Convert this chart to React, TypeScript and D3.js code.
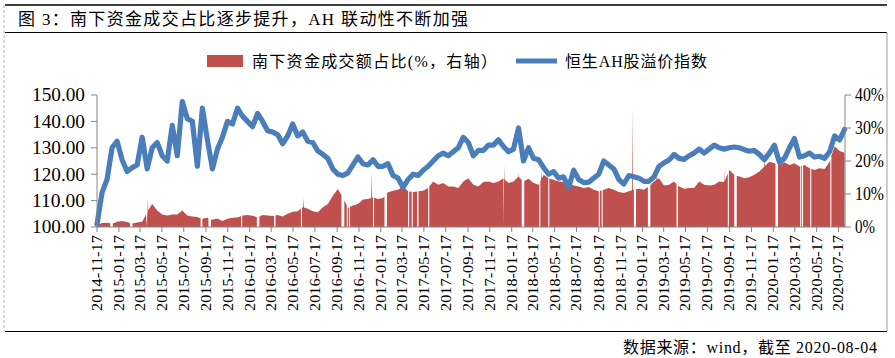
import React from "react";
import * as d3 from "d3";

// ---------- data ----------
const START = "2014-11-17";
const END = "2020-08-04";
const STEP_DAYS = 14; // one sample every two weeks

// 恒生AH股溢价指数 (left axis)
const ahIndex = [
  101, 113, 118, 130, 132.5, 125.5, 121, 122.5, 123.5, 134,
  122, 130, 132, 127, 125, 138.5, 127, 147.5, 141, 140,
  123, 145, 133, 122, 129.5, 134, 140, 139, 145, 142,
  140, 138, 143, 140, 136.5, 136, 135, 131.5, 134.5, 139,
  134.5, 136, 132.5, 132, 128.8, 127.5, 126, 122, 120, 119.5,
  120.5, 123.5, 126.5, 124, 123.5, 125.5, 123, 123, 124, 119.5,
  118.5, 115, 118, 120, 119.5, 121.5, 123, 125, 127, 128,
  127, 128.5, 130, 134, 132, 127, 129, 129, 131, 131,
  133, 130.5, 128.5, 129.5, 137.5, 125, 130, 126, 125.5, 122.5,
  120, 121, 118.5, 119, 115, 121.5, 118, 116.8, 117, 118.5,
  120, 125, 123.5, 122, 118, 116.3, 119.5, 119, 118.5, 117.3,
  117.3, 119, 123, 124.3, 125.4, 127.5, 126, 125.6, 127, 128,
  129.5, 128, 129.5, 131, 130, 129.5, 130, 130.3, 130, 129.3,
  128.7, 129, 127.5, 125.5, 128, 131, 124.5, 126, 130, 133.5,
  126.5, 127, 128, 126.5, 126.8, 126, 128.5, 134.5, 133, 137,
];

// 南下资金成交额占比 % (right axis)
const southShare = [
  0.5, 1.2, 1.3, 1.0, 1.6, 1.8, 1.5, 1.0, 1.4, 1.6,
  4.5, 7.0, 5.0, 3.8, 3.5, 3.8, 3.8, 5.0, 3.5, 3.2,
  3.0, 2.5, 2.8, 2.2, 2.6, 1.8, 2.5, 2.8, 2.9, 3.5,
  3.6, 3.4, 3.0, 3.6, 3.5, 3.3, 3.6, 3.2, 4.0, 4.6,
  4.8, 6.0, 5.5, 4.8, 4.5, 6.0, 7.0, 9.5, 11.5, 9.0,
  5.8, 6.5, 7.0, 8.3, 8.5, 9.0, 8.5, 8.8, 10.5, 11.0,
  11.3, 12.3, 10.8, 10.6, 10.8, 11.0, 11.8, 13.8, 12.8, 13.3,
  12.3, 12.3, 11.8, 13.8, 14.8, 12.8, 12.3, 13.6, 13.8, 13.3,
  13.8, 14.8, 13.3, 13.8, 15.3, 13.8, 14.6, 13.3, 12.8, 15.8,
  14.8, 14.3, 13.8, 13.6, 13.3, 12.6, 12.3, 11.8, 12.1, 11.3,
  10.8, 11.3, 11.8, 11.3, 10.6, 10.3, 10.8, 11.3, 11.6, 11.3,
  12.3, 13.8, 14.8, 12.6, 12.8, 13.8, 12.3, 11.6, 11.8, 11.8,
  13.8, 12.8, 12.6, 12.8, 13.8, 13.6, 17.3, 15.8, 15.3, 14.8,
  15.1, 15.8, 16.8, 18.3, 19.8, 19.3, 18.8, 19.6, 18.8, 19.3,
  18.3, 18.8, 17.8, 17.3, 17.8, 17.6, 19.8, 24.5, 23.0, 22.5,
];

// Stock Connect closure periods (start date, days) -> zero share
const closures: [string, number][] = [
  ["2014-12-24", 7], ["2015-02-17", 7], ["2015-04-03", 4], ["2015-09-02", 5],
  ["2015-09-24", 7], ["2015-12-24", 3], ["2016-02-06", 7], ["2016-03-25", 4],
  ["2016-06-08", 3], ["2016-09-29", 8], ["2016-10-14", 3], ["2016-10-20", 3],
  ["2016-12-26", 3], ["2017-01-27", 7], ["2017-04-03", 3], ["2017-04-13", 3],
  ["2017-04-28", 4], ["2017-05-29", 3], ["2017-12-25", 3], ["2018-02-14", 7],
  ["2018-04-04", 3], ["2018-04-29", 3], ["2018-09-17", 3], ["2018-09-25", 3],
  ["2018-12-24", 6], ["2019-02-01", 7], ["2019-04-22", 4], ["2019-09-12", 3],
  ["2019-09-30", 7], ["2020-01-23", 7], ["2020-04-01", 3], ["2020-04-06", 3],
  ["2020-04-29", 3], ["2020-06-24", 3],
];

// single-day peaks of the share (date, %)
const spikes: [string, number][] = [
  ["2015-04-08", 8.8], ["2016-06-15", 8.8], ["2016-12-22", 16.9],
  ["2017-12-28", 18.9], ["2018-02-05", 16.9], ["2018-04-10", 16.9],
  ["2018-12-20", 36], ["2019-02-26", 16.9], ["2019-09-02", 18.9],
  ["2019-12-24", 23.9],
];

const xTickLabels = [
  "2014-11-17", "2015-01-17", "2015-03-17", "2015-05-17", "2015-07-17",
  "2015-09-17", "2015-11-17", "2016-01-17", "2016-03-17", "2016-05-17",
  "2016-07-17", "2016-09-17", "2016-11-17", "2017-01-17", "2017-03-17",
  "2017-05-17", "2017-07-17", "2017-09-17", "2017-11-17", "2018-01-17",
  "2018-03-17", "2018-05-17", "2018-07-17", "2018-09-17", "2018-11-17",
  "2019-01-17", "2019-03-17", "2019-05-17", "2019-07-17", "2019-09-17",
  "2019-11-17", "2020-01-17", "2020-03-17", "2020-05-17", "2020-07-17",
];
const leftTicks = [100, 110, 120, 130, 140, 150];
const rightTicks = [0, 10, 20, 30, 40];

const TITLE = "图 3：南下资金成交占比逐步提升，AH 联动性不断加强";
const LEGEND_SHARE = "南下资金成交额占比(%，右轴）";
const LEGEND_AH = "恒生AH股溢价指数";
const SOURCE = "数据来源：wind，截至 2020-08-04";

// ---------- layout ----------
const W = 895;
const H = 358;
const PL = 97;
const PR = 845;
const PT = 95;
const PB = 227;
const RED = "#C0504D";
const BLUE = "#4A7EBB";
const AXIS = "#868686";
const SERIF = "'Liberation Serif', 'Noto Sans CJK SC', serif";

const parse = d3.utcParse("%Y-%m-%d");

export default function App() {
  const t0 = parse(START)!;
  const t1 = parse(END)!;
  const x = d3.scaleUtc().domain([t0, t1]).range([PL, PR]);
  const yL = d3.scaleLinear().domain([100, 150]).range([PB, PT]);
  const yR = d3.scaleLinear().domain([0, 40]).range([PB, PT]);

  const lineData = ahIndex.map((v, i) => ({ t: d3.utcDay.offset(t0, i * STEP_DAYS).getTime(), v }));
  const baseRed = southShare.map((v, i) => ({ t: d3.utcDay.offset(t0, i * STEP_DAYS).getTime(), v, o: 0 }));
  const bis = d3.bisector((p: any) => p.t).left;
  const valAt = (t: number) => {
    const i = bis(baseRed, t);
    if (i <= 0) return baseRed[0].v;
    if (i >= baseRed.length) return baseRed[baseRed.length - 1].v;
    const a = baseRed[i - 1];
    const b = baseRed[i];
    return a.v + ((b.v - a.v) * (t - a.t)) / (b.t - a.t);
  };
  const gaps = closures.map(([d, n]) => {
    const a = parse(d)!;
    return [a.getTime(), d3.utcDay.offset(a, n).getTime()];
  });
  const redPts: { t: number; v: number; o: number }[] = baseRed.filter(
    (p) => !gaps.some(([a, b]) => p.t >= a && p.t <= b)
  );
  gaps.forEach(([a, b]) => {
    redPts.push({ t: a, v: valAt(a), o: 0 }, { t: a, v: 0, o: 1 }, { t: b, v: 0, o: 2 }, { t: b, v: valAt(b), o: 3 });
  });
  const DAY = 86400000;
  spikes.forEach(([d, v]) => {
    const s = parse(d)!.getTime();
    redPts.push({ t: s - 1.2 * DAY, v: valAt(s - 1.2 * DAY), o: 0 }, { t: s, v, o: 1 }, { t: s + 1.2 * DAY, v: valAt(s + 1.2 * DAY), o: 2 });
  });
  redPts.sort((a, b) => a.t - b.t || a.o - b.o);

  const area = d3
    .area<{ t: number; v: number }>()
    .x((p) => x(p.t))
    .y0(yR(0))
    .y1((p) => yR(p.v));
  const line = d3
    .line<{ t: number; v: number }>()
    .x((p) => x(p.t))
    .y((p) => yL(p.v));

  return (
    <svg
      width={W}
      height={H}
      viewBox={`0 0 ${W} ${H}`}
      style={{ position: "absolute", left: 0, top: 0, background: "#fff" }}
    >
      <rect x={0} y={0} width={W} height={H} fill="#fff" />
      {/* frame */}
      <line x1={5} x2={887} y1={5} y2={5} stroke="#000" strokeWidth={1.5} />
      <line x1={5} x2={887} y1={32.5} y2={32.5} stroke="#000" strokeWidth={1.2} />
      <line x1={4} x2={4} y1={5} y2={331} stroke="#b5b5b5" strokeDasharray="3,2" />
      <line x1={887} x2={887} y1={32} y2={331} stroke="#9a9a9a" />
      <line x1={5} x2={887} y1={331.5} y2={331.5} stroke="#000" strokeWidth={1.2} />
      <text x={18} y={25} fontFamily={SERIF} fontSize={17} textLength={450} lengthAdjust="spacing">
        {TITLE}
      </text>

      {/* legend */}
      <rect x={207} y={55} width={36} height={12} fill={RED} />
      <text x={252} y={67} fontFamily={SERIF} fontSize={16} textLength={245} lengthAdjust="spacing">
        {LEGEND_SHARE}
      </text>
      <line x1={516} x2={557} y1={61} y2={61} stroke={BLUE} strokeWidth={5} />
      <text x={565} y={67} fontFamily={SERIF} fontSize={16} textLength={142} lengthAdjust="spacing">
        {LEGEND_AH}
      </text>

      {/* series */}
      <path d={area(redPts) || ""} fill={RED} />
      <path
        d={line(lineData) || ""}
        fill="none"
        stroke={BLUE}
        strokeWidth={5.2}
        strokeLinejoin="round"
        strokeLinecap="round"
      />

      {/* left axis */}
      <line x1={PL} x2={PL} y1={PT} y2={PB} stroke={AXIS} />
      {leftTicks.map((v) => (
        <g key={"l" + v}>
          <line x1={PL - 6} x2={PL} y1={yL(v)} y2={yL(v)} stroke={AXIS} />
          <text
            x={85}
            y={yL(v)}
            dy="0.35em"
            textAnchor="end"
            fontFamily={SERIF}
            fontSize={18}
            textLength={53}
            lengthAdjust="spacingAndGlyphs"
          >
            {v.toFixed(2)}
          </text>
        </g>
      ))}

      {/* right axis */}
      <line x1={PR} x2={PR} y1={PT} y2={PB} stroke={AXIS} />
      {rightTicks.map((v) => (
        <g key={"r" + v}>
          <line x1={PR} x2={PR + 6} y1={yR(v)} y2={yR(v)} stroke={AXIS} />
          <text
            x={855}
            y={yR(v)}
            dy="0.35em"
            fontFamily={SERIF}
            fontSize={18}
            textLength={v === 0 ? 20 : 29}
            lengthAdjust="spacingAndGlyphs"
          >
            {v + "%"}
          </text>
        </g>
      ))}

      {/* bottom axis */}
      <line x1={PL} x2={PR} y1={PB} y2={PB} stroke={AXIS} />
      {xTickLabels.map((s) => {
        const xx = x(parse(s)!);
        return (
          <g key={s}>
            <line x1={xx} x2={xx} y1={PB} y2={PB + 5} stroke={AXIS} />
            <text
              transform={`translate(${xx},235) rotate(-90)`}
              dy="0.35em"
              textAnchor="end"
              fontFamily={SERIF}
              fontSize={14}
              textLength={76}
              lengthAdjust="spacingAndGlyphs"
            >
              {s}
            </text>
          </g>
        );
      })}

      <text x={623} y={353} fontFamily={SERIF} fontSize={16} textLength={254} lengthAdjust="spacing">
        {SOURCE}
      </text>
    </svg>
  );
}
